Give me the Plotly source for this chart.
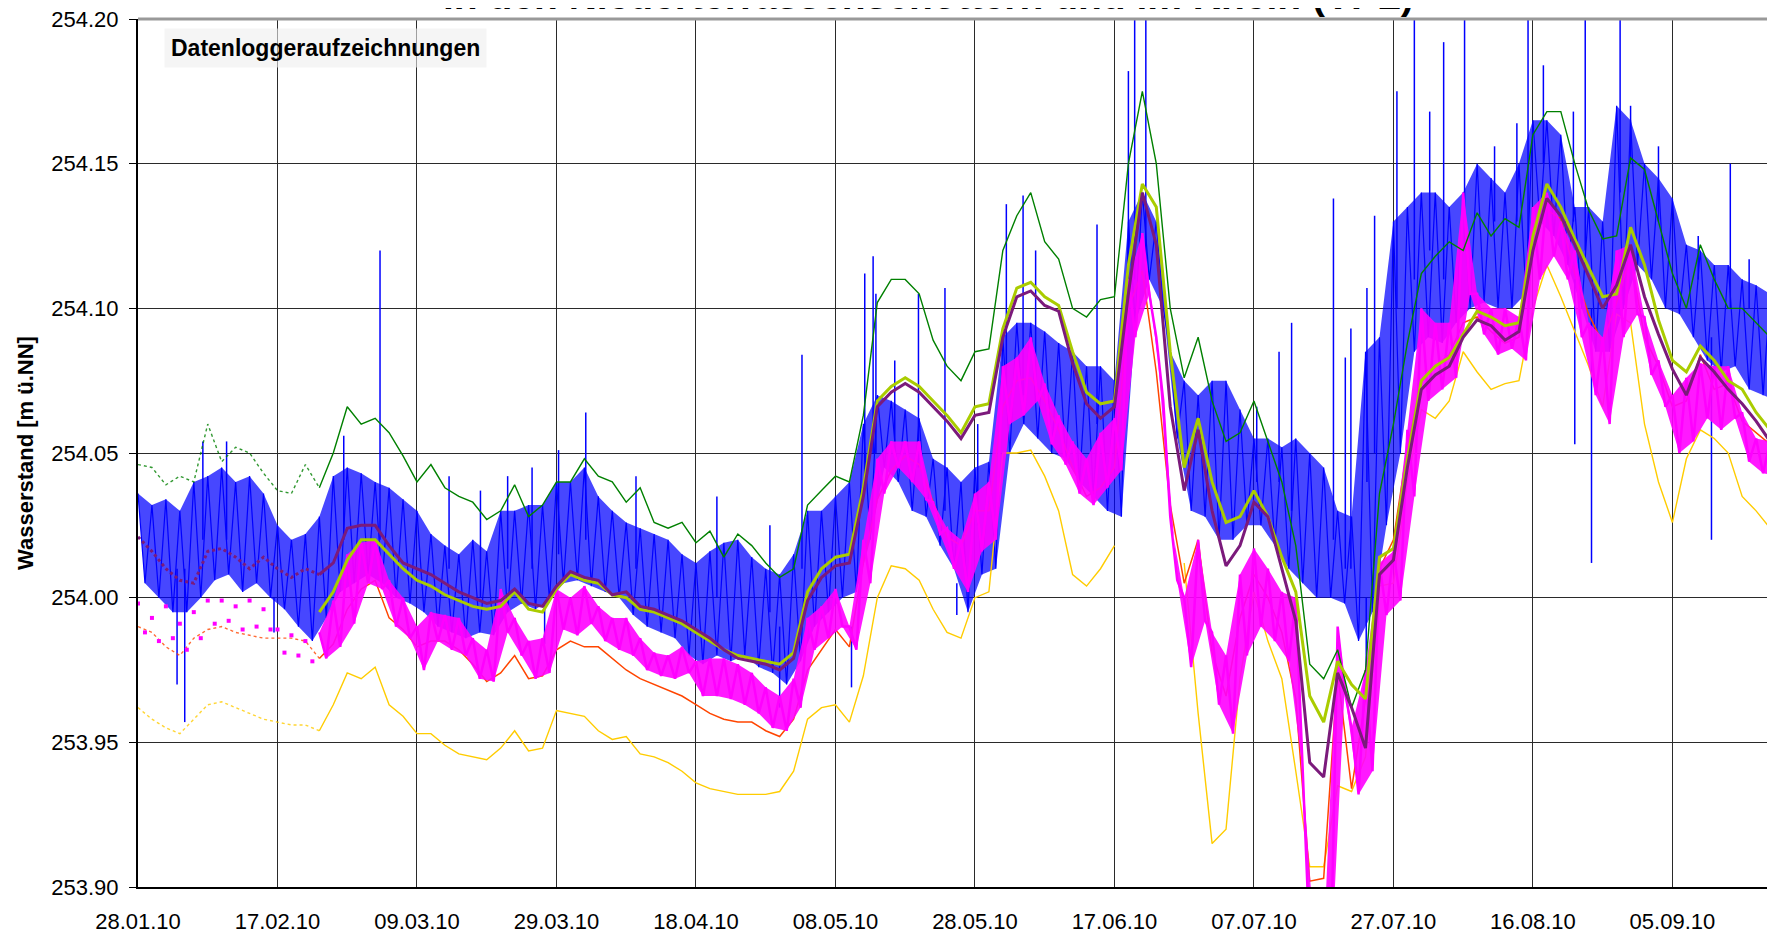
import pandas as pd
import plotly.graph_objects as go

# ---------------- data (2-day sampling grid, starting 28.01.2010) ----------------
START = "2010-01-28"
N = 119
DATES = pd.date_range(START, periods=N, freq="2D")
DATES_ODD = DATES + pd.Timedelta(days=1)   # second reading of each 2-day step
DOT_END = 13                                # sparse (dotted) logger data up to 23.02.10

X_END = "2010-09-19 17:00"
Y_RANGE = [253.90, 254.20]
Y_TICKS = [253.90, 253.95, 254.00, 254.05, 254.10, 254.15, 254.20]
TITLE = "in den Niederterrassenschottern und im Rhein (VPL)"
Y_TITLE = "Wasserstand [m ü.NN]"
NOTE = "Datenloggeraufzeichnungen"

PURPLE = [
    254.021, 254.016, 254.010, 254.006, 254.005, 254.016, 254.017, 254.014, 254.010, 254.014,
    254.010, 254.007, 254.010, 254.008, 254.012, 254.024, 254.025, 254.025, 254.018, 254.012,
    254.010, 254.008, 254.005, 254.002, 254.000, 253.998, 253.999, 254.003, 253.998, 253.997,
    254.004, 254.009, 254.007, 254.006, 254.001, 254.002, 253.997, 253.996, 253.994, 253.992,
    253.989, 253.986, 253.982, 253.979, 253.978, 253.977, 253.975, 253.979, 253.999, 254.007,
    254.011, 254.012, 254.035, 254.066, 254.071, 254.074, 254.071, 254.066, 254.061, 254.055,
    254.063, 254.064, 254.090, 254.104, 254.106, 254.101, 254.099, 254.081, 254.067, 254.062,
    254.066, 254.105, 254.140, 254.122, 254.066, 254.037, 254.058, 254.030, 254.011, 254.018,
    254.033, 254.028, 254.010, 253.992, 253.943, 253.938, 253.974, 253.962, 253.948, 254.008,
    254.013, 254.045, 254.072, 254.077, 254.080, 254.090, 254.096, 254.094, 254.089, 254.092,
    254.120, 254.138, 254.132, 254.122, 254.111, 254.100, 254.108, 254.122, 254.104, 254.091,
    254.079, 254.070, 254.083, 254.078, 254.072, 254.067, 254.061, 254.054, 254.050]

YELLOWGREEN = [
    None, None, None, None, None, None, None, None, None, None,
    None, None, None, 253.995, 254.002, 254.013, 254.020, 254.020, 254.015, 254.010,
    254.006, 254.004, 254.001, 253.999, 253.997, 253.996, 253.997, 254.002, 253.996, 253.995,
    254.003, 254.008, 254.006, 254.005, 254.001, 254.000, 253.996, 253.995, 253.993, 253.991,
    253.988, 253.985, 253.982, 253.980, 253.979, 253.978, 253.977, 253.981, 254.002, 254.010,
    254.014, 254.015, 254.038, 254.068, 254.073, 254.076, 254.073, 254.068, 254.063, 254.057,
    254.066, 254.067, 254.093, 254.107, 254.109, 254.104, 254.101, 254.085, 254.071, 254.067,
    254.068, 254.115, 254.143, 254.135, 254.085, 254.045, 254.062, 254.040, 254.026, 254.028,
    254.037, 254.028, 254.014, 254.002, 253.966, 253.957, 253.978, 253.970, 253.965, 254.014,
    254.017, 254.048, 254.075, 254.080, 254.083, 254.091, 254.099, 254.097, 254.094, 254.095,
    254.125, 254.143, 254.135, 254.124, 254.114, 254.104, 254.105, 254.128, 254.115, 254.096,
    254.082, 254.078, 254.087, 254.082, 254.075, 254.072, 254.064, 254.058, 254.054]

GREEN = [
    254.046, 254.045, 254.039, 254.042, 254.040, 254.060, 254.047, 254.052, 254.050, 254.043,
    254.037, 254.036, 254.046, 254.038, 254.050, 254.066, 254.060, 254.062, 254.057, 254.049,
    254.040, 254.046, 254.038, 254.035, 254.033, 254.027, 254.030, 254.039, 254.028, 254.032,
    254.040, 254.040, 254.048, 254.042, 254.040, 254.033, 254.038, 254.026, 254.024, 254.026,
    254.019, 254.023, 254.014, 254.022, 254.018, 254.012, 254.007, 254.010, 254.032, 254.037,
    254.042, 254.040, 254.063, 254.102, 254.110, 254.110, 254.105, 254.089, 254.080, 254.075,
    254.085, 254.086, 254.120, 254.132, 254.140, 254.123, 254.117, 254.100, 254.097, 254.103,
    254.104, 254.150, 254.175, 254.150, 254.100, 254.076, 254.090, 254.068, 254.054, 254.057,
    254.068, 254.054, 254.040, 254.018, 253.977, 253.972, 253.982, 253.962, 253.975, 254.036,
    254.060, 254.088, 254.112, 254.118, 254.123, 254.120, 254.133, 254.125, 254.131, 254.128,
    254.160, 254.168, 254.168, 254.150, 254.134, 254.124, 254.125, 254.152, 254.148, 254.130,
    254.112, 254.100, 254.122, 254.110, 254.100, 254.100, 254.095, 254.090, 254.086]

GOLD = [
    253.962, 253.958, 253.955, 253.953, 253.958, 253.963, 253.964, 253.962, 253.960, 253.958,
    253.957, 253.956, 253.956, 253.954, 253.963, 253.974, 253.972, 253.976, 253.963, 253.959,
    253.953, 253.953, 253.949, 253.946, 253.945, 253.944, 253.948, 253.954, 253.947, 253.948,
    253.961, 253.960, 253.959, 253.954, 253.951, 253.952, 253.946, 253.945, 253.943, 253.940,
    253.936, 253.934, 253.933, 253.932, 253.932, 253.932, 253.933, 253.940, 253.958, 253.962,
    253.963, 253.957, 253.973, 254.000, 254.011, 254.010, 254.006, 253.996, 253.988, 253.986,
    254.000, 254.002, 254.050, 254.050, 254.051, 254.042, 254.030, 254.008, 254.004, 254.010,
    254.018, None, None, None, None, 254.012, 253.960, 253.915, 253.920, 253.972,
    254.002, 253.985, 253.972, 253.940, 253.907, 253.907, 253.935, 253.933, 253.945, 254.004,
    254.005, 254.040, 254.065, 254.062, 254.068, 254.085, 254.078, 254.072, 254.074, 254.075,
    254.100, 254.115, 254.104, 254.092, 254.080, 254.066, 254.098, 254.095, 254.060, 254.040,
    254.026, 254.048, 254.058, 254.055, 254.050, 254.035, 254.030, 254.024, 254.020]

ORANGE = [
    253.990, 253.988, 253.983, 253.980, 253.986, 253.989, 253.990, 253.988, 253.987, 253.986,
    253.986, 253.986, 253.985, 253.979, 253.984, 253.996, 254.003, 254.006, 253.993, 253.989,
    253.983, 253.985, 253.985, 253.982, 253.977, 253.971, 253.974, 253.980, 253.972, 253.973,
    253.982, 253.985, 253.983, 253.983, 253.979, 253.975, 253.972, 253.970, 253.968, 253.966,
    253.963, 253.960, 253.958, 253.957, 253.957, 253.954, 253.952, 253.958, 253.975, 253.982,
    253.989, 253.983, 254.012, 254.034, 254.044, 254.049, 254.046, 254.033, 254.021, 254.018,
    254.030, 254.030, 254.066, 254.075, 254.076, 254.068, 254.058, 254.045, 254.035, 254.038,
    254.045, 254.100, 254.113, 254.078, 254.032, 254.005, 254.020, 253.981, 253.966, 253.993,
    254.008, 254.000, 253.988, 253.965, 253.902, 253.903, 253.974, 253.934, 253.965, 254.010,
    254.020, 254.052, 254.075, 254.080, 254.084, 254.095, 254.097, 254.092, 254.088, 254.090,
    254.125, 254.134, 254.131, 254.112, 254.098, 254.088, 254.102, 254.118, 254.090, 254.080,
    254.066, 254.068, 254.084, 254.072, 254.074, 254.061, 254.057, 254.053, 254.050]

MAGENTA_HI = [
    253.998, 253.993, 253.997, 253.991, 253.995, 253.999, 253.999, 253.997, 253.999, 253.996,
    253.989, 253.987, 253.985, 253.988, 253.999, 254.015, 254.019, 254.020, 254.006, 254.000,
    253.990, 253.995, 253.994, 253.993, 253.986, 253.982, 254.003, 253.993, 253.985, 253.986,
    254.003, 254.000, 254.004, 253.997, 253.993, 253.993, 253.986, 253.981, 253.980, 253.983,
    253.978, 253.979, 253.979, 253.977, 253.974, 253.969, 253.966, 253.972, 253.993, 253.997,
    254.003, 253.990, 254.020, 254.048, 254.054, 254.054, 254.054, 254.033, 254.024, 254.020,
    254.036, 254.040, 254.080, 254.083, 254.090, 254.074, 254.063, 254.054, 254.048, 254.057,
    254.062, 254.110, 254.126, 254.090, 254.028, 254.000, 254.020, 253.988, 253.980, 254.008,
    254.017, 254.010, 254.002, 254.000, 253.880, 253.880, 253.990, 253.955, 253.975, 254.012,
    254.016, 254.058, 254.100, 254.095, 254.095, 254.140, 254.105, 254.100, 254.100, 254.097,
    254.135, 254.140, 254.130, 254.120, 254.095, 254.090, 254.120, 254.122, 254.097, 254.082,
    254.070, 254.076, 254.081, 254.080, 254.080, 254.064, 254.055, 254.054, 254.051]

MAGENTA_LO = [
    253.988, 253.985, 253.986, 253.982, 253.986, 253.991, 253.992, 253.989, 253.990, 253.989,
    253.981, 253.980, 253.978, 253.979, 253.983, 253.991, 254.005, 254.003, 253.990, 253.986,
    253.975, 253.985, 253.982, 253.980, 253.972, 253.971, 253.988, 253.980, 253.972, 253.974,
    253.989, 253.987, 253.991, 253.985, 253.982, 253.980, 253.975, 253.973, 253.972, 253.974,
    253.966, 253.966, 253.965, 253.963, 253.960, 253.955, 253.954, 253.962, 253.982, 253.986,
    253.990, 253.982, 254.005, 254.036, 254.045, 254.040, 254.034, 254.022, 254.010, 254.002,
    254.016, 254.020, 254.060, 254.063, 254.068, 254.053, 254.046, 254.036, 254.032, 254.038,
    254.044, 254.090, 254.105, 254.068, 254.006, 253.976, 253.992, 253.963, 253.953, 253.980,
    253.990, 253.985, 253.978, 253.940, 253.870, 253.870, 253.968, 253.932, 253.940, 253.994,
    253.999, 254.035, 254.068, 254.072, 254.076, 254.105, 254.091, 254.084, 254.086, 254.082,
    254.110, 254.118, 254.110, 254.090, 254.070, 254.060, 254.090, 254.098, 254.077, 254.066,
    254.050, 254.054, 254.062, 254.058, 254.062, 254.047, 254.043, 254.042, 254.040]

# blue logger: typical upper / lower edge of its dense band
BLUE_HI = [
    254.036, 254.032, 254.034, 254.030, 254.040, 254.042, 254.045, 254.040, 254.042, 254.036,
    254.025, 254.020, 254.022, 254.028, 254.042, 254.045, 254.043, 254.040, 254.038, 254.034,
    254.030, 254.022, 254.018, 254.015, 254.020, 254.016, 254.030, 254.030, 254.032, 254.032,
    254.040, 254.040, 254.045, 254.035, 254.030, 254.026, 254.024, 254.022, 254.020, 254.015,
    254.012, 254.016, 254.019, 254.020, 254.014, 254.010, 254.008, 254.015, 254.030, 254.030,
    254.035, 254.040, 254.060, 254.070, 254.068, 254.065, 254.062, 254.048, 254.045, 254.040,
    254.045, 254.047, 254.090, 254.095, 254.095, 254.092, 254.088, 254.085, 254.080, 254.080,
    254.075, 254.130, 254.140, 254.130, 254.085, 254.075, 254.070, 254.075, 254.075, 254.065,
    254.055, 254.055, 254.052, 254.055, 254.050, 254.045, 254.030, 254.028, 254.085, 254.090,
    254.130, 254.135, 254.140, 254.140, 254.135, 254.140, 254.150, 254.145, 254.140, 254.150,
    254.165, 254.165, 254.160, 254.135, 254.135, 254.130, 254.170, 254.165, 254.150, 254.145,
    254.138, 254.122, 254.120, 254.115, 254.115, 254.110, 254.108, 254.105, 254.100]

BLUE_LO = [
    254.005, 254.000, 253.995, 253.995, 254.000, 254.006, 254.008, 254.002, 254.005, 254.000,
    253.996, 253.990, 253.985, 253.993, 254.002, 254.005, 254.008, 254.005, 254.000, 253.998,
    253.995, 253.990, 253.988, 253.986, 253.988, 253.987, 253.995, 253.998, 253.996, 253.999,
    254.005, 254.006, 254.004, 254.002, 254.000, 253.994, 253.990, 253.988, 253.986, 253.980,
    253.977, 253.980, 253.978, 253.980, 253.976, 253.974, 253.970, 253.978, 253.990, 253.995,
    254.000, 254.002, 254.020, 254.045, 254.040, 254.030, 254.028, 254.018, 254.010, 253.995,
    254.008, 254.010, 254.050, 254.060, 254.055, 254.050, 254.048, 254.040, 254.035, 254.030,
    254.028, 254.095, 254.110, 254.100, 254.055, 254.030, 254.028, 254.020, 254.020, 254.025,
    254.025, 254.018, 254.010, 254.005, 254.000, 254.000, 253.998, 253.985, 253.995, 254.025,
    254.050, 254.085, 254.090, 254.088, 254.095, 254.100, 254.102, 254.100, 254.100, 254.105,
    254.130, 254.125, 254.115, 254.100, 254.085, 254.085, 254.100, 254.115, 254.110, 254.100,
    254.098, 254.090, 254.082, 254.078, 254.080, 254.072, 254.070, 254.068, 254.070]

# isolated blue spikes: day offset from 28.01.10, value where spike starts, spike tip
SPIKE_DAY = [5.6, 6.7, 9.3, 12.7, 19.5, 29.5, 34.7, 44.6, 49.1, 53.0, 56.5, 58.3, 60.3,
             64.2, 71.4, 83.0, 90.6, 92.0, 95.2, 102.3, 104.2, 105.4, 105.8, 108.5, 111.9,
             115.7, 117.4, 120.4, 124.5, 126.9, 128.7, 137.5, 142.0, 142.9, 144.5, 160.4,
             163.6, 165.4, 171.4, 173.1, 173.9, 176.1, 176.2, 177.3, 180.5, 183.0, 185.2,
             187.2, 190.2, 194.5, 197.7, 199.3, 201.5, 205.8, 206.0, 207.5, 208.4, 212.5,
             214.0, 218.0, 223.7, 225.6, 228.3, 231.0]
SPIKE_FROM = [254.010, 254.010, 254.020, 254.020, 254.000, 254.020, 254.020, 254.010, 254.000,
              254.010, 254.010, 253.998, 254.015, 254.020, 254.010, 254.000, 253.995, 253.990,
              254.010, 253.990, 254.040, 254.050, 254.050, 254.050, 254.045, 254.030, 254.005,
              254.025, 254.070, 254.070, 254.070, 254.060, 254.100, 254.110, 254.110, 254.040,
              254.040, 254.030, 254.020, 254.010, 254.010, 254.000, 254.040, 254.050, 254.100,
              254.110, 254.120, 254.110, 254.120, 254.130, 254.130, 254.120, 254.150, 254.130,
              254.110, 254.120, 254.100, 254.140, 254.150, 254.130, 254.110, 254.090, 254.100,
              254.100]
SPIKE_TO = [253.970, 253.957, 254.054, 254.054, 253.988, 254.056, 254.120, 254.042, 254.037,
            254.042, 254.045, 253.984, 254.051, 254.064, 254.042, 254.035, 254.025, 253.962,
            254.084, 253.969, 254.112, 254.118, 254.105, 254.082, 254.105, 254.107, 253.994,
            254.060, 254.136, 254.139, 254.120, 254.129, 254.182, 254.210, 254.210, 254.066,
            254.085, 254.095, 254.138, 254.083, 254.093, 253.976, 254.107, 254.132, 254.175,
            254.210, 254.168, 254.192, 254.210, 254.156, 254.164, 254.210, 254.184, 254.168,
            254.053, 254.200, 254.012, 254.210, 254.170, 254.156, 254.125, 254.020, 254.150,
            254.117]

for name, arr in [("PURPLE", PURPLE), ("YELLOWGREEN", YELLOWGREEN), ("GREEN", GREEN),
                  ("GOLD", GOLD), ("ORANGE", ORANGE), ("MAGENTA_HI", MAGENTA_HI),
                  ("MAGENTA_LO", MAGENTA_LO), ("BLUE_HI", BLUE_HI), ("BLUE_LO", BLUE_LO)]:
    assert len(arr) == N, (name, len(arr))
assert len(SPIKE_DAY) == len(SPIKE_FROM) == len(SPIKE_TO)


def zigzag(hi, lo, start=0):
    xs, ys = [], []
    for d, d1, h, l in zip(DATES[start:], DATES_ODD[start:], hi[start:], lo[start:]):
        xs += [d, d1]
        ys += [h, l]
    return xs, ys


def band(fig, hi, lo, color, start=0):
    fig.add_trace(go.Scatter(x=DATES_ODD[start:], y=lo[start:], mode="lines",
                             line=dict(width=0, color=color)))
    fig.add_trace(go.Scatter(x=DATES[start:], y=hi[start:], mode="lines",
                             line=dict(width=0, color=color), fill="tonexty", fillcolor=color))


FONT = "Liberation Sans, Arial, sans-serif"
fig = go.Figure()

# blue logger series: dense band + zigzag + spikes
band(fig, BLUE_HI, BLUE_LO, "rgba(0,0,255,0.72)")
bx, by = zigzag(BLUE_HI, BLUE_LO)
fig.add_trace(go.Scatter(x=bx, y=by, mode="lines", line=dict(color="#0000FF", width=1.2)))
sx, sy = [], []
for d, a, b in zip(SPIKE_DAY, SPIKE_FROM, SPIKE_TO):
    t = pd.Timestamp(START) + pd.Timedelta(days=d)
    sx += [t, t, None]
    sy += [a, b, None]
fig.add_trace(go.Scatter(x=sx, y=sy, mode="lines", line=dict(color="#0000FF", width=1.5)))

# gold
fig.add_trace(go.Scatter(x=DATES[:DOT_END + 1], y=GOLD[:DOT_END + 1], mode="lines",
                         line=dict(color="#FFCC00", width=1.4, dash="dot"), opacity=0.8))
fig.add_trace(go.Scatter(x=DATES[DOT_END:], y=GOLD[DOT_END:], mode="lines",
                         line=dict(color="#FFCC00", width=1.4)))
# orange-red
fig.add_trace(go.Scatter(x=DATES[:DOT_END + 1], y=ORANGE[:DOT_END + 1], mode="lines",
                         line=dict(color="#FF4500", width=1.4, dash="dot"), opacity=0.8))
fig.add_trace(go.Scatter(x=DATES[DOT_END:], y=ORANGE[DOT_END:], mode="lines",
                         line=dict(color="#FF4500", width=1.5)))
# magenta
fig.add_trace(go.Scatter(x=list(DATES[:DOT_END]) + list(DATES_ODD[:DOT_END]),
                         y=MAGENTA_HI[:DOT_END] + MAGENTA_LO[:DOT_END], mode="markers",
                         marker=dict(color="#FF00FF", size=4, symbol="square")))
band(fig, MAGENTA_HI, MAGENTA_LO, "rgba(255,0,255,0.9)", DOT_END)
mx, my = zigzag(MAGENTA_HI, MAGENTA_LO, DOT_END)
fig.add_trace(go.Scatter(x=mx, y=my, mode="lines", line=dict(color="#FF00FF", width=2.5)))
# green
fig.add_trace(go.Scatter(x=DATES[:DOT_END + 1], y=GREEN[:DOT_END + 1], mode="lines",
                         line=dict(color="#008000", width=1.4, dash="dot"), opacity=0.8))
fig.add_trace(go.Scatter(x=DATES[DOT_END:], y=GREEN[DOT_END:], mode="lines",
                         line=dict(color="#008000", width=1.4)))
# yellow-green
fig.add_trace(go.Scatter(x=DATES, y=YELLOWGREEN, mode="lines",
                         line=dict(color="#AACC00", width=3)))
# purple
fig.add_trace(go.Scatter(x=DATES[:DOT_END + 1], y=PURPLE[:DOT_END + 1], mode="lines",
                         line=dict(color="#7B1A7B", width=3, dash="dot")))
fig.add_trace(go.Scatter(x=DATES[DOT_END:], y=PURPLE[DOT_END:], mode="lines",
                         line=dict(color="#7B1A7B", width=3)))

fig.update_traces(hoverinfo="skip")

# the page body adds an 8px offset: margins compensate so the plot sits at (138, 19)
fig.update_layout(
    width=1775, height=935,
    margin=dict(l=130, r=8, t=11, b=56, autoexpand=False),
    paper_bgcolor="white", plot_bgcolor="white",
    showlegend=False,
    font=dict(family=FONT, size=22, color="black"),
    xaxis=dict(
        type="date", range=[START, X_END], automargin=False,
        tick0=START, dtick=20 * 86400000, tickformat="%d.%m.%y",
        showgrid=True, gridcolor="#2a2a2a", gridwidth=1,
        showline=True, linecolor="black", linewidth=2,
        ticks="", ticklabelstandoff=14, zeroline=False,
        tickfont=dict(family=FONT, size=22),
    ),
    yaxis=dict(
        range=Y_RANGE, tickmode="array", tickvals=Y_TICKS, automargin=False,
        ticktext=[f"{v:.2f}" for v in Y_TICKS], ticklabeloverflow="allow",
        showgrid=True, gridcolor="#2a2a2a", gridwidth=1,
        showline=True, linecolor="black", linewidth=2,
        ticks="outside", ticklen=7, tickcolor="black", ticklabelstandoff=6,
        zeroline=False, tickfont=dict(family=FONT, size=22),
    ),
    shapes=[dict(type="line", xref="paper", yref="paper", x0=0, x1=1, y0=1, y1=1,
                 line=dict(color="#999999", width=3))],
    annotations=[
        dict(text=f"<b>{TITLE}</b>", xref="paper", yref="paper", x=0.4826, y=1,
             xanchor="center", yanchor="bottom", yshift=0, showarrow=False,
             font=dict(family=FONT, size=39, color="black")),
        dict(text=f"<b>{NOTE}</b>", xref="paper", yref="paper",
             x=(325 - 138) / 1637, y=1 - (48 - 19) / 868,
             xanchor="center", yanchor="middle", showarrow=False,
             bgcolor="rgba(238,238,238,0.6)", borderpad=6,
             font=dict(family=FONT, size=23, color="black")),
        dict(text=f"<b>{Y_TITLE}</b>", xref="paper", yref="paper",
             x=(25 - 138) / 1637, y=0.5, textangle=-90,
             xanchor="center", yanchor="middle", showarrow=False,
             font=dict(family=FONT, size=22, color="black")),
    ],
)

fig.write_html("out.html")
